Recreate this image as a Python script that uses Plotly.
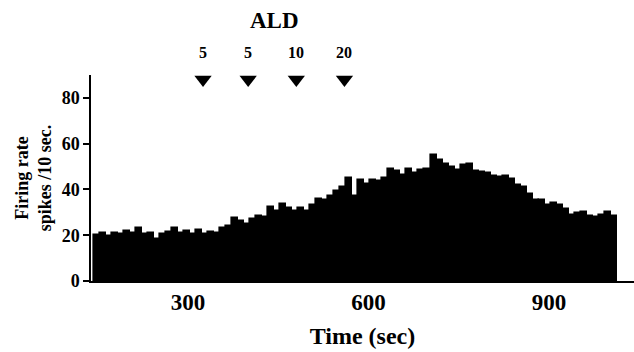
import plotly.graph_objects as go

# Peri-stimulus rate histogram: spikes counted in 10 s bins
bin_start = 143
bin_width = 10
firing_rate = [
    20, 21, 19.5, 21, 20.5, 22, 21, 23, 20.5, 21,
    18.5, 20.5, 21.5, 23, 21, 22, 20.5, 22.5, 20.5, 21.5,
    21,
    23, 24, 27.5, 26, 25, 27, 28.5, 28, 32.5, 30.5,
    33.5, 32, 30.5, 32, 30.5, 33, 36, 35.5, 37, 39.5,
    41, 45, 37, 44, 42.5, 44, 43.5, 45, 49, 48,
    46.5, 49, 47, 48.5, 49, 55, 53, 51, 50, 48.5,
    50.5, 51, 48, 47.5, 47, 46, 45.5, 46, 44.5, 42,
    41, 38, 35.5, 35.5, 33, 34, 33, 31.5, 29, 29.5,
    30, 28.5, 28, 29, 30, 28.5,
]
time_centers = [bin_start + bin_width * (i + 0.5) for i in range(len(firing_rate))]

# ALD injections (time in s, dose label)
ald_times = [325, 400, 480, 560]
ald_doses = ["5", "5", "10", "20"]
marker_level = 88
dose_level = 100
title_level = 114

x_ticks = [300, 600, 900]
y_ticks = [0, 20, 40, 60, 80]
y_range = [0, 90]

serif = "Liberation Serif, Times New Roman, serif"


def to_paper(v):
    return (v - y_range[0]) / (y_range[1] - y_range[0])


fig = go.Figure()
fig.add_trace(go.Bar(
    x=time_centers, y=firing_rate, width=bin_width,
    marker=dict(color="black", line=dict(color="black", width=1.6)),
    showlegend=False,
))
fig.add_trace(go.Scatter(
    x=ald_times, y=[marker_level] * len(ald_times), mode="markers",
    marker=dict(symbol="triangle-down", size=15, color="black"),
    cliponaxis=False, showlegend=False,
))
for t, d in zip(ald_times, ald_doses):
    fig.add_annotation(x=t, xref="x", y=to_paper(dose_level), yref="paper",
                       xanchor="center", yanchor="middle",
                       text=f"<b>{d}</b>", showarrow=False,
                       font=dict(family=serif, size=16, color="black"))
fig.add_annotation(x=sum(ald_times[1:3]) / 2 + 3, xref="x",
                   y=to_paper(title_level), yref="paper",
                   xanchor="center", yanchor="middle", text="<b>ALD</b>",
                   showarrow=False, font=dict(family=serif, size=23, color="black"))

fig.update_layout(
    width=634, height=352,
    margin=dict(l=91, r=0, t=75, b=71),
    plot_bgcolor="white", paper_bgcolor="white",
    bargap=0,
    font=dict(family=serif, color="black"),
    xaxis=dict(
        range=[138.8, 1041.2], tickvals=x_ticks,
        ticktext=[f"<b>{v}</b>" for v in x_ticks],
        tickfont=dict(size=23), ticks="", showgrid=False, zeroline=False,
        showline=True, linecolor="black", linewidth=1.5,
        title=dict(text="<b>Time (sec)</b>", font=dict(size=24), standoff=13),
    ),
    yaxis=dict(
        range=y_range, tickvals=y_ticks,
        ticktext=[f"<b>{v}</b>" for v in y_ticks],
        tickfont=dict(size=18), ticks="outside", ticklen=6, tickwidth=1.5,
        tickcolor="black", showgrid=False, zeroline=False,
        showline=True, linecolor="black", linewidth=1.5,
        title=dict(text="<b>Firing rate<br>spikes /10 sec.</b>", font=dict(size=18), standoff=5),
    ),
)

fig.write_html("out.html")
